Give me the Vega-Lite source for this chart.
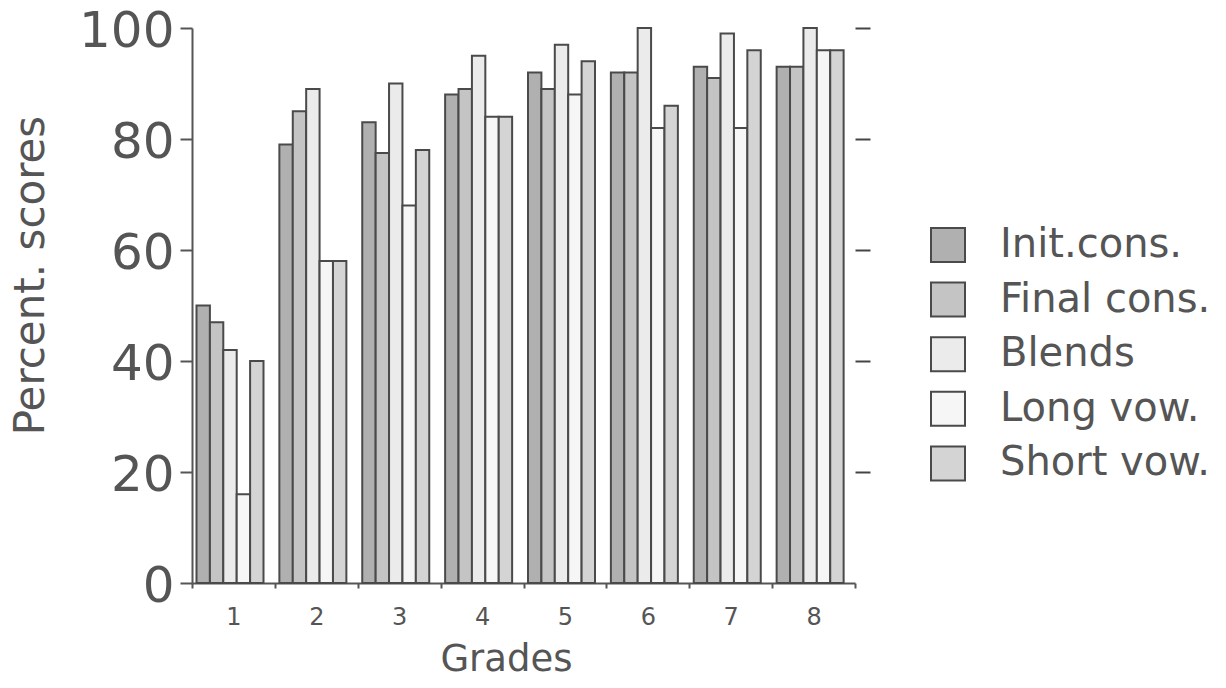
{
  "$schema": "https://vega.github.io/schema/vega-lite/v6.json",
  "width": 663,
  "height": 555,
  "autosize": {"type": "none"},
  "padding": {"left": 192, "top": 28, "right": 371, "bottom": 105},
  "background": "white",
  "config": {"view": {"stroke": null}, "font": "DejaVu Sans"},
  "data": {
    "values": [
      {"grade": "1", "category": "Init.cons.", "score": 50},
      {"grade": "1", "category": "Final cons.", "score": 47},
      {"grade": "1", "category": "Blends", "score": 42},
      {"grade": "1", "category": "Long vow.", "score": 16},
      {"grade": "1", "category": "Short vow.", "score": 40},
      {"grade": "2", "category": "Init.cons.", "score": 79},
      {"grade": "2", "category": "Final cons.", "score": 85},
      {"grade": "2", "category": "Blends", "score": 89},
      {"grade": "2", "category": "Long vow.", "score": 58},
      {"grade": "2", "category": "Short vow.", "score": 58},
      {"grade": "3", "category": "Init.cons.", "score": 83},
      {"grade": "3", "category": "Final cons.", "score": 77.5},
      {"grade": "3", "category": "Blends", "score": 90},
      {"grade": "3", "category": "Long vow.", "score": 68},
      {"grade": "3", "category": "Short vow.", "score": 78},
      {"grade": "4", "category": "Init.cons.", "score": 88},
      {"grade": "4", "category": "Final cons.", "score": 89},
      {"grade": "4", "category": "Blends", "score": 95},
      {"grade": "4", "category": "Long vow.", "score": 84},
      {"grade": "4", "category": "Short vow.", "score": 84},
      {"grade": "5", "category": "Init.cons.", "score": 92},
      {"grade": "5", "category": "Final cons.", "score": 89},
      {"grade": "5", "category": "Blends", "score": 97},
      {"grade": "5", "category": "Long vow.", "score": 88},
      {"grade": "5", "category": "Short vow.", "score": 94},
      {"grade": "6", "category": "Init.cons.", "score": 92},
      {"grade": "6", "category": "Final cons.", "score": 92},
      {"grade": "6", "category": "Blends", "score": 100},
      {"grade": "6", "category": "Long vow.", "score": 82},
      {"grade": "6", "category": "Short vow.", "score": 86},
      {"grade": "7", "category": "Init.cons.", "score": 93},
      {"grade": "7", "category": "Final cons.", "score": 91},
      {"grade": "7", "category": "Blends", "score": 99},
      {"grade": "7", "category": "Long vow.", "score": 82},
      {"grade": "7", "category": "Short vow.", "score": 96},
      {"grade": "8", "category": "Init.cons.", "score": 93},
      {"grade": "8", "category": "Final cons.", "score": 93},
      {"grade": "8", "category": "Blends", "score": 100},
      {"grade": "8", "category": "Long vow.", "score": 96},
      {"grade": "8", "category": "Short vow.", "score": 96}
    ]
  },
  "resolve": {"axis": {"y": "independent"}},
  "layer": [
    {
      "mark": {"type": "bar", "stroke": "#4a4a4a", "strokeWidth": 2},
      "encoding": {
        "x": {
          "field": "grade",
          "type": "ordinal",
          "scale": {"paddingInner": 0, "paddingOuter": 0},
          "axis": {
            "orient": "bottom",
            "title": "Grades",
            "labelAngle": 0,
            "labelFontSize": 24,
            "labelColor": "#555",
            "labelPadding": 17,
            "tickBand": "extent",
            "tickSize": 5,
            "tickColor": "#555",
            "tickWidth": 2,
            "domainColor": "#555",
            "domainWidth": 2,
            "titleFontSize": 37,
            "titleFontWeight": "normal",
            "titleColor": "#555",
            "titleX": 314,
            "titleY": 87,
            "titleAlign": "center",
            "titleBaseline": "alphabetic"
          }
        },
        "xOffset": {
          "field": "category",
          "type": "nominal",
          "sort": ["Init.cons.", "Final cons.", "Blends", "Long vow.", "Short vow."],
          "scale": {"range": [4.5, 71.5], "paddingInner": 0, "paddingOuter": 0}
        },
        "y": {
          "field": "score",
          "type": "quantitative",
          "scale": {"domain": [0, 100], "nice": false},
          "axis": {
            "orient": "left",
            "values": [0, 20, 40, 60, 80, 100],
            "grid": false,
            "domainColor": "#555",
            "domainWidth": 2,
            "tickColor": "#555",
            "tickWidth": 2,
            "tickSize": 12,
            "labelFontSize": 50,
            "labelColor": "#555",
            "labelPadding": 6,
            "labelOffset": 3,
            "title": "Percent. scores",
            "titleFontSize": 42,
            "titleFontWeight": "normal",
            "titleColor": "#555",
            "titleX": -162,
            "titleY": 247,
            "titleAngle": -90,
            "titleAlign": "center",
            "titleBaseline": "middle"
          }
        },
        "fill": {
          "field": "category",
          "type": "nominal",
          "sort": ["Init.cons.", "Final cons.", "Blends", "Long vow.", "Short vow."],
          "scale": {
            "domain": ["Init.cons.", "Final cons.", "Blends", "Long vow.", "Short vow."],
            "range": ["#b0b0b0", "#c4c4c4", "#ebebeb", "#f6f6f6", "#d4d4d4"]
          },
          "legend": {
            "orient": "none",
            "legendX": 736,
            "legendY": 197,
            "title": null,
            "symbolType": "square",
            "symbolSize": 1156,
            "symbolStrokeColor": "#4a4a4a",
            "symbolStrokeWidth": 2,
            "labelFontSize": 40,
            "labelColor": "#555",
            "labelOffset": 32,
            "labelLimit": 0,
            "rowPadding": 12.6,
            "padding": 0
          }
        }
      }
    },
    {
      "mark": {"type": "rule", "opacity": 0},
      "encoding": {
        "y": {
          "field": "score",
          "type": "quantitative",
          "axis": {
            "orient": "right",
            "values": [20, 40, 60, 80, 100],
            "grid": false,
            "domain": false,
            "labels": false,
            "title": null,
            "tickColor": "#444",
            "tickWidth": 2,
            "tickSize": 15
          }
        }
      }
    }
  ]
}
